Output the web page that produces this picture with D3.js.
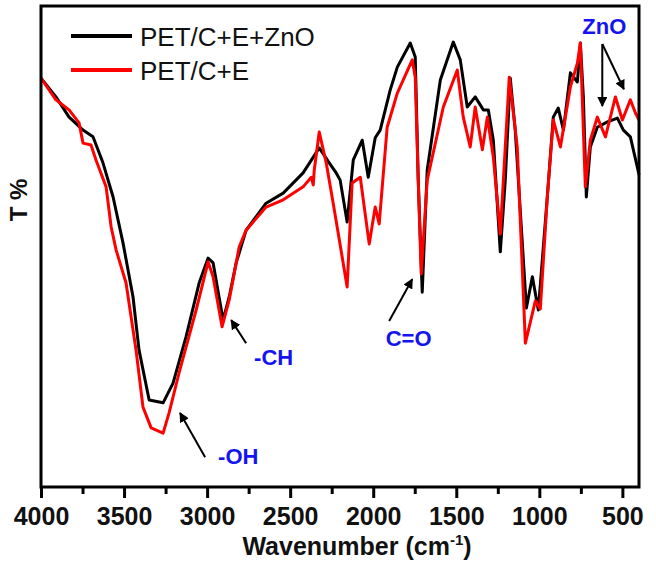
<!DOCTYPE html>
<html lang="en">
    <head>
        <meta charset="utf-8">
        <title>FTIR spectra</title>
        <style>
            body { margin: 0; background: #fff; }
            svg { display: block; font-family: "Liberation Sans", Arial, sans-serif; }
            .tick text { font-size: 25px; font-weight: bold; fill: #111; }
            .label { font-size: 22px; font-weight: bold; fill: #1414f0; }
        </style>
        <script type="text/javascript" src="https://d3js.org/d3.v7.min.js"></script>
    </head>
    <body>
        <div id="chart"></div>
        <script type="text/javascript">

            // wavenumber (cm-1) and transmittance (arbitrary %)
            var wnZnO = [4000, 3910, 3831, 3747, 3687, 3627, 3566, 3506, 3446, 3410, 3349, 3265, 3205, 3127, 3048, 2994, 2964, 2904, 2867, 2825,
                         2765, 2645, 2542, 2422, 2325, 2265, 2223, 2199, 2157, 2120, 2066, 2030, 1988, 1958, 1898, 1855, 1777, 1747, 1729, 1705,
                         1675, 1596, 1518, 1476, 1434, 1386, 1337, 1307, 1277, 1235, 1205, 1175, 1145, 1078, 1042, 1006, 952, 916, 886, 855,
                         813, 771, 753, 735, 717, 693, 651, 590, 530, 494, 452, 410, 400];
            var tZnO = [85.0, 81.1, 76.9, 74.2, 72.8, 67.4, 60.3, 50.7, 39.5, 28.5, 18.1, 17.5, 21.6, 31.2, 42.4, 47.6, 46.6, 34.7, 39.5, 46.6,
                        53.4, 59.0, 61.1, 65.3, 70.5, 67.4, 65.3, 63.8, 55.1, 68.0, 72.1, 64.4, 72.6, 74.2, 82.5, 87.3, 92.3, 89.4, 63.8, 40.5,
                        65.9, 84.6, 92.5, 88.8, 79.0, 81.1, 78.4, 78.4, 72.1, 48.9, 63.8, 85.0, 74.2, 37.2, 43.7, 36.8, 60.3, 76.9, 78.8, 74.2,
                        86.1, 84.2, 92.3, 81.1, 60.3, 70.7, 74.8, 75.9, 76.7, 74.2, 72.8, 66.5, 64.9];

            var wnE = [4000, 3910, 3831, 3771, 3747, 3699, 3669, 3608, 3578, 3548, 3488, 3428, 3386, 3337, 3265, 3229, 3169, 3066, 2994, 2964,
                       2910, 2867, 2807, 2765, 2645, 2542, 2422, 2373, 2361, 2355, 2325, 2283, 2241, 2211, 2157, 2127, 2078, 2024, 1988, 1964,
                       1916, 1855, 1765, 1747, 1729, 1711, 1675, 1578, 1494, 1458, 1416, 1386, 1343, 1313, 1277, 1235, 1181, 1133, 1084, 1024,
                       994, 952, 916, 873, 813, 771, 753, 723, 693, 651, 602, 542, 500, 452, 422, 400];
            var tE = [85.0, 80.5, 78.4, 75.7, 71.5, 71.1, 68.0, 62.4, 54.1, 49.3, 42.4, 28.5, 16.6, 12.3, 11.2, 15.4, 23.7, 36.8, 46.8, 43.7,
                      33.3, 38.9, 49.9, 53.4, 58.2, 59.7, 62.4, 64.4, 62.8, 65.9, 73.8, 67.4, 59.0, 52.8, 41.6, 63.2, 64.4, 50.5, 58.2, 54.7,
                      74.8, 81.9, 88.8, 85.2, 63.8, 44.3, 63.8, 79.0, 86.7, 76.9, 70.7, 79.0, 70.1, 76.9, 68.6, 52.6, 85.2, 70.7, 29.9, 38.7,
                      37.0, 60.3, 76.3, 70.7, 83.2, 88.1, 92.3, 62.4, 72.1, 76.9, 72.8, 81.1, 76.3, 80.5, 77.8, 76.3];

            var seriesNames = ["PET/C+E+ZnO", "PET/C+E"];
            var seriesColors = ["#000000", "#ff0000"];
            var majorTicks = [4000, 3500, 3000, 2500, 2000, 1500, 1000, 500];
            var minorTicks = [3750, 3250, 2750, 2250, 1750, 1250, 750];

            // annotation labels: text, text anchor point, arrows [tail wn, tail T, head wn, head T]
            var noteText = ["-OH", "-CH", "C=O", "ZnO"];
            var noteAt = [[2934, 4.8], [2717, 25.4], [1925, 29.3], [741, 94.2]];
            var noteArrows = [[[3012, 6.2, 3163, 15.4]],
                              [[2765, 29.9, 2855, 34.7]],
                              [[1904, 34.5, 1765, 43.2]],
                              [[621, 92.1, 621, 79.2], [621, 92.1, 491, 82.7]]];

            var w = 656;
            var h = 574;
            var margin = {top: 6, right: 17, bottom: 87, left: 41};
            var iw = w - margin.left - margin.right;
            var ih = h - margin.top - margin.bottom;

            var svg = d3.select('#chart')
                        .append('svg')
                        .attr('width', w)
                        .attr('height', h);

            var defs = svg.append('defs');
            defs.append('marker')
                .attr('id', 'head')
                .attr('viewBox', '0 0 10 10')
                .attr('refX', 9)
                .attr('refY', 5)
                .attr('markerWidth', 5)
                .attr('markerHeight', 5)
                .attr('markerUnits', 'strokeWidth')
                .attr('orient', 'auto')
                .append('path')
                .attr('d', 'M0,0 L10,5 L0,10 z')
                .attr('fill', '#000');

            var g = svg.append('g')
                       .attr('transform', 'translate(' + margin.left + ',' + margin.top + ')');

            var x = d3.scaleLinear().domain([4000, 400]).range([0, iw]);
            var y = d3.scaleLinear().domain([0, 100]).range([ih, 0]);

            var line = d3.line()
                         .x(function(d) { return x(d[0]); })
                         .y(function(d) { return y(d[1]); });

            var series = [d3.zip(wnZnO, tZnO), d3.zip(wnE, tE)];

            g.selectAll('path.curve')
             .data(series)
             .enter()
             .append('path')
             .attr('class', 'curve')
             .attr('d', line)
             .attr('fill', 'none')
             .attr('stroke', function(d, i) { return seriesColors[i]; })
             .attr('stroke-width', 3)
             .attr('stroke-linejoin', 'round');

            // axis ticks
            var xAxis = d3.axisBottom(x)
                          .tickValues(majorTicks)
                          .tickSize(11)
                          .tickPadding(9)
                          .tickFormat(d3.format('d'));
            var ax = g.append('g')
                      .attr('transform', 'translate(0,' + ih + ')')
                      .call(xAxis);
            ax.select('.domain').remove();
            ax.selectAll('.tick line').attr('stroke', '#000').attr('stroke-width', 3);

            var minorAxis = d3.axisBottom(x)
                              .tickValues(minorTicks)
                              .tickSize(7)
                              .tickFormat('');
            var mx = g.append('g')
                      .attr('transform', 'translate(0,' + ih + ')')
                      .call(minorAxis);
            mx.select('.domain').remove();
            mx.selectAll('.tick line').attr('stroke', '#000').attr('stroke-width', 3);

            // frame
            g.append('rect')
             .attr('width', iw)
             .attr('height', ih)
             .attr('fill', 'none')
             .attr('stroke', '#000')
             .attr('stroke-width', 3);

            // axis titles
            var xt = svg.append('text')
                        .attr('x', 357)
                        .attr('y', 555)
                        .attr('text-anchor', 'middle')
                        .style('font-size', '25px')
                        .style('font-weight', 'bold')
                        .attr('fill', '#111');
            xt.append('tspan').text('Wavenumber (cm');
            xt.append('tspan').attr('dy', -10).style('font-size', '15px').text('-1');
            xt.append('tspan').attr('dy', 10).text(')');

            svg.append('text')
               .attr('transform', 'translate(27,200) rotate(-90)')
               .attr('text-anchor', 'middle')
               .style('font-size', '24px')
               .style('font-weight', 'bold')
               .attr('fill', '#111')
               .text('T %');

            // legend
            var legend = svg.selectAll('.legend')
                            .data(seriesNames)
                            .enter()
                            .append('g')
                            .attr('class', 'legend')
                            .attr('transform', function(d, i) {
                                return 'translate(71,' + (36 + i * 34) + ')';
                            });
            legend.append('line')
                  .attr('x1', 0)
                  .attr('x2', 61)
                  .attr('stroke', function(d, i) { return seriesColors[i]; })
                  .attr('stroke-width', 4);
            legend.append('text')
                  .attr('x', 69)
                  .attr('y', 10)
                  .style('font-size', '26px')
                  .attr('fill', '#111')
                  .text(function(d) { return d; });

            // annotations
            noteArrows.forEach(function(list) {
                list.forEach(function(a) {
                    g.append('line')
                     .attr('x1', x(a[0]))
                     .attr('y1', y(a[1]))
                     .attr('x2', x(a[2]))
                     .attr('y2', y(a[3]))
                     .attr('stroke', '#000')
                     .attr('stroke-width', 2)
                     .attr('marker-end', 'url(#head)');
                });
            });

            g.selectAll('.label')
             .data(noteText)
             .enter()
             .append('text')
             .attr('class', 'label')
             .attr('x', function(d, i) { return x(noteAt[i][0]); })
             .attr('y', function(d, i) { return y(noteAt[i][1]); })
             .text(function(d) { return d; });

        </script>
    </body>
</html>
